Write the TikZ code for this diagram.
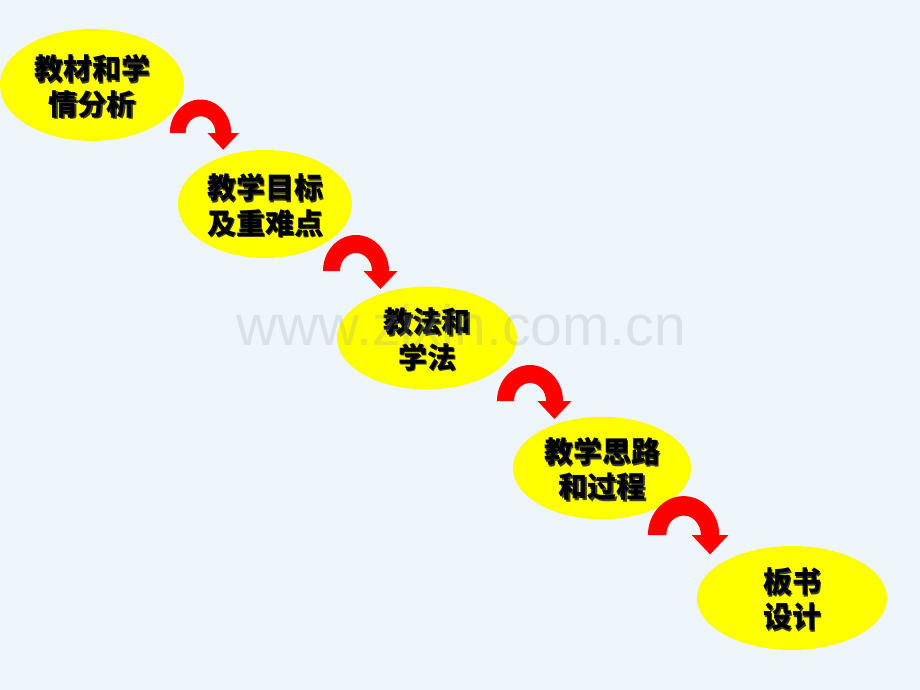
\documentclass[tikz,border=0pt]{standalone}
\usepackage{fontspec}
\newfontfamily\cjk{Noto Sans CJK SC}
\newfontfamily\wmfont{Liberation Sans}
\usetikzlibrary{shapes.geometric,calc}

\definecolor{pagebg}{RGB}{238,246,252}
\definecolor{blobyellow}{RGB}{255,255,0}
\definecolor{turnred}{RGB}{255,0,0}
\definecolor{txtshadow}{RGB}{60,60,45}
\definecolor{wmgray}{RGB}{150,152,162}

% text with a dark copy a little to the lower right
\newcommand\shtext[1]{\raisebox{-6pt}[\height][\depth]{%
  \makebox[0pt][l]{\raisebox{-1.8pt}{\hspace{1.8pt}\color{txtshadow}\begin{tabular}{@{}c@{}}#1\end{tabular}}}%
  \begin{tabular}{@{}c@{}}#1\end{tabular}}}

\begin{document}
\begin{tikzpicture}[x=1pt,y=1pt,
    blob/.style={ellipse, fill=blobyellow, inner sep=0pt,
      font=\cjk\bfseries\fontsize{29}{35}\selectfont},
    bendarrow/.pic={
      \fill[turnred] (-33,0) arc[start angle=180, end angle=0, x radius=33pt, y radius=36pt]
        -- (41.5,0) -- (24.5,-18) -- (7.5,0) -- (16,0)
        arc[start angle=0, end angle=180, x radius=16pt, y radius=18pt] -- cycle;
    }]
    \fill[pagebg] (0,0) rectangle (920,-690);
    \useasboundingbox (0,0) rectangle (920,-690);

    \node[blob, minimum width=184pt, minimum height=112pt] (analysis) at (92,-85) {\shtext{教材和学\\情分析}};
    \node[blob, minimum width=174pt, minimum height=108pt] (goals) at (265,-204) {\shtext{教学目标\\及重难点}};
    \node[blob, minimum width=180pt, minimum height=100pt] (methods) at (427,-338) {\shtext{教法和\\学法}};
    \node[blob, minimum width=178pt, minimum height=100pt] (process) at (602,-468) {\shtext{教学思路\\和过程}};
    \node[blob, minimum width=190pt, minimum height=104pt] (board) at (792,-598) {\shtext{板书\\设计}};

    \pic[scale=.93] at ($(analysis)!.5!(goals)+(22,11.5)$) {bendarrow};
    \pic at ($(goals)!.5!(methods)+(10,0)$) {bendarrow};
    \pic at ($(methods)!.5!(process)+(15.5,2)$) {bendarrow};
    \pic[scale=1.08] at ($(process)!.5!(board)+(-13.4,-2)$) {bendarrow};

    \node[anchor=base, font=\wmfont\fontsize{57}{57}\selectfont, text=wmgray, text opacity=.22] (mark) at (461,-345) {www.zixin.com.cn};
\end{tikzpicture}
\end{document}
